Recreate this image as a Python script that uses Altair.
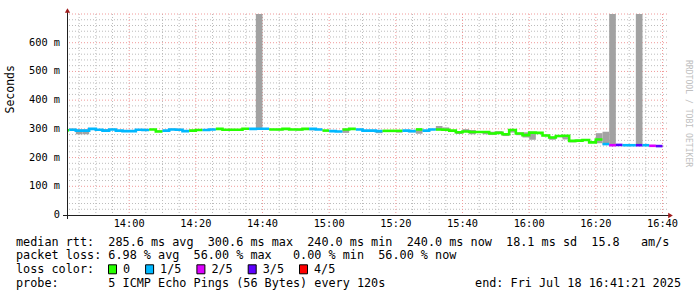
import altair as alt
import pandas as pd

# ---------------- data ----------------
# one value per 2-minute step, first step starts 13:40 (minutes after 13:40)
median_ms = [295, 297, 294, 294, 300, 297, 294, 298, 294, 292,
             292, 297, 296, 298, 291, 294, 298, 297, 292, 294,
             296, 296, 298, 300, 297, 297, 297, 300.6, 300, 300.6,
             300.6, 298, 298, 300, 298, 298, 300, 300, 298, 294,
             292, 291, 298, 300, 298, 294, 294, 292, 293, 293,
             293, 294, 292, 298, 294, 298, 298, 297, 294, 288,
             291, 289, 289, 289, 284, 286, 281, 296, 284, 278,
             287, 286, 277, 270, 275, 276, 258, 259, 261, 253,
             263, 247, 243, 244, 243, 243, 243, 243, 241, 240]
loss_idx = [0, 1, 1, 1, 1, 1, 1, 1, 1, 1,
            1, 1, 1, 0, 0, 1, 1, 1, 1, 0,
            0, 1, 1, 0, 0, 0, 0, 0, 1, 1,
            1, 0, 0, 0, 0, 0, 0, 1, 1, 0,
            1, 1, 0, 0, 1, 1, 1, 1, 0, 0,
            0, 1, 1, 0, 1, 1, 0, 0, 0, 0,
            0, 0, 0, 0, 0, 0, 0, 0, 0, 0,
            0, 0, 0, 0, 0, 0, 0, 0, 0, 0,
            0, 1, 2, 3, 1, 1, 3, 1, 2, 3]
smoke_lo = [293, 295, 281, 281, 297, 295, 292, 296, 292, 290,
            290, 294, 294, 296, 289, 292, 296, 294, 290, 292,
            293, 293, 296, 298, 294, 295, 295, 298, 298, 298,
            298, 296, 295, 298, 296, 294, 298, 295, 296, 292,
            290, 289, 286, 298, 296, 292, 292, 285, 291, 291,
            287, 292, 288, 283, 292, 296, 295, 294, 292, 282,
            289, 281, 286, 281, 279, 284, 275, 287, 278, 270,
            262, 283, 274, 262, 271, 263, 253, 257, 259, 251,
            250, 245, 241, 242, 241, 241, 241, 241, 239, 238]
smoke_hi = [300, 301, 298, 298, 301, 299, 299, 300, 296, 294,
            294, 299, 298, 300, 295, 296, 301, 300, 294, 297,
            298, 298, 300, 301, 299, 300, 299, 302, 302, 740,
            302, 300, 300, 302, 300, 300, 302, 302, 300, 296,
            294, 293, 300, 302, 300, 296, 296, 294, 295, 295,
            295, 296, 294, 300, 296, 300, 310, 305, 296, 291,
            299, 296, 291, 291, 290, 292, 284, 298, 287, 288,
            290, 288, 280, 273, 278, 278, 261, 262, 263, 256,
            285, 290, 740, 246, 245, 245, 740, 245, 243, 242]

loss_labels = ["0", "1/5", "2/5", "3/5", "4/5"]
loss_colors = ["#26ff00", "#00b8ff", "#dd00ff", "#5e00ff", "#ff0000"]

x_tick_values = [20, 40, 60, 80, 100, 120, 140, 160, 180]
x_tick_labels = ["14:00", "14:20", "14:40", "15:00", "15:20", "15:40",
                 "16:00", "16:20", "16:40"]
y_tick_values = [0, 100, 200, 300, 400, 500, 600]
y_tick_labels = ["0  ", "100 m", "200 m", "300 m", "400 m", "500 m", "600 m"]

x_minor = [m for m in range(5, 181, 5) if m % 20 != 0]
x_major = x_tick_values
y_minor = [v for v in range(20, 701, 20) if v % 100 != 0]
y_major = [100, 200, 300, 400, 500, 600, 700]

legend_rows = [
    "median rtt:  285.6 ms avg  300.6 ms max  240.0 ms min  240.0 ms now  18.1 ms sd  15.8   am/s",
    "packet loss: 6.98 % avg  56.00 % max   0.00 % min  56.00 % now",
    "loss color:",
    "probe:       5 ICMP Echo Pings (56 Bytes) every 120s",
]
end_text = "end: Fri Jul 18 16:41:21 2025"

# ---------------- derived tables ----------------
STEP = 2
X_DOMAIN = [1.35, 181.35]   # 13:41:21 .. 16:41:21
Y_DOMAIN = [0, 700]
W, H = 600, 201
NB = "\u00a0"


def keep_spaces(s):
    return s.replace(" ", NB)


n = len(median_ms)
t0 = [STEP * i for i in range(n)]
smoke_df = pd.DataFrame({"t0": t0, "t1": [t + STEP for t in t0],
                         "lo": smoke_lo, "hi": smoke_hi})

rows = []
grp = 0
for i in range(n):
    if i > 0 and loss_idx[i] != loss_idx[i - 1]:
        rows.append({"t": t0[i], "v": median_ms[i - 1], "grp": grp,
                     "loss": loss_labels[loss_idx[i - 1]]})
        grp += 1
    rows.append({"t": t0[i], "v": median_ms[i], "grp": grp,
                 "loss": loss_labels[loss_idx[i]]})
rows.append({"t": t0[-1] + STEP, "v": median_ms[-1], "grp": grp,
             "loss": loss_labels[loss_idx[-1]]})
line_df = pd.DataFrame(rows)

xs = alt.Scale(domain=X_DOMAIN, nice=False, zero=False)
ys = alt.Scale(domain=Y_DOMAIN, nice=False, zero=False)

MONO = "DejaVu Sans Mono"


def vgrid(vals, color):
    return alt.Chart(pd.DataFrame({"v": vals})).mark_rule(
        color=color, strokeDash=[1, 2], strokeWidth=1
    ).encode(x=alt.X("v:Q", scale=xs, axis=None))


def hgrid(vals, color):
    return alt.Chart(pd.DataFrame({"v": vals})).mark_rule(
        color=color, strokeDash=[1, 2], strokeWidth=1
    ).encode(y=alt.Y("v:Q", scale=ys, axis=None))


def text(txt, x, y, size=11.8, align="left", angle=0, color="#000000"):
    return alt.Chart(pd.DataFrame({"t": [keep_spaces(txt)]})).mark_text(
        align=align, baseline="middle", font=MONO, fontSize=size,
        angle=angle, color=color
    ).encode(x=alt.value(x), y=alt.value(y), text="t:N")


MINOR = "#bcbcbc"
MAJOR = "#f09a9a"

smoke = alt.Chart(smoke_df).mark_rect(color="#a2a2a2", clip=True).encode(
    x=alt.X("t0:Q", scale=xs, axis=None),
    x2="t1:Q",
    y=alt.Y("lo:Q", scale=ys, axis=None),
    y2="hi:Q",
)

median = alt.Chart(line_df).mark_line(
    interpolate="step-after", strokeWidth=2.6, clip=True
).encode(
    x=alt.X("t:Q", scale=xs, axis=None),
    y=alt.Y("v:Q", scale=ys, axis=None),
    color=alt.Color("loss:N", scale=alt.Scale(domain=loss_labels, range=loss_colors),
                    legend=None),
    detail="grp:N",
    order="t:Q",
)

x_tick_text = alt.Chart(pd.DataFrame({"v": x_tick_values, "lab": x_tick_labels})).mark_text(
    font=MONO, fontSize=10.3, baseline="middle", align="center", color="#000000"
).encode(x=alt.X("v:Q", scale=xs, axis=None), y=alt.value(210), text="lab:N")

y_tick_text = alt.Chart(pd.DataFrame({"v": y_tick_values,
                                      "lab": [keep_spaces(s) for s in y_tick_labels]})).mark_text(
    font=MONO, fontSize=10.3, baseline="middle", align="right", color="#000000"
).encode(x=alt.value(-7), y=alt.Y("v:Q", scale=ys, axis=None), text="lab:N")

AXIS = "#202020"
x_axis_line = alt.Chart(pd.DataFrame({"a": [0]})).mark_rule(color=AXIS, strokeWidth=1).encode(
    x=alt.value(-4), x2=alt.value(604), y=alt.value(201.5))
y_axis_line = alt.Chart(pd.DataFrame({"a": [0]})).mark_rule(color=AXIS, strokeWidth=1).encode(
    x=alt.value(0.5), y=alt.value(-2), y2=alt.value(205))

ARROW = "#a01c1c"
y_arrow = alt.Chart(pd.DataFrame({"a": [0]})).mark_point(
    shape="triangle-up", filled=True, size=28, color=ARROW, opacity=1).encode(
    x=alt.value(0.5), y=alt.value(-3.5))
x_arrow = alt.Chart(pd.DataFrame({"a": [0]})).mark_point(
    shape="triangle-right", filled=True, size=28, color=ARROW, opacity=1).encode(
    x=alt.value(603.5), y=alt.value(201.5))

layers = [
    vgrid(x_minor, MINOR), hgrid(y_minor, MINOR),
    vgrid(x_major, MAJOR), hgrid(y_major, MAJOR),
    smoke, median, x_axis_line, y_axis_line, y_arrow, x_arrow,
    x_tick_text, y_tick_text,
    text("Seconds", -56, 99.5, size=11.5, angle=270),
    text("RRDTOOL / TOBI OETIKER", 620.5, 46, size=8.1, angle=90, color="#c0c0c0"),
]

LX = -51
row_y = [227.7, 241.2, 255.3, 268.7]
for r, line in enumerate(legend_rows):
    layers.append(text(line, LX, row_y[r]))
layers.append(text(end_text, 614, row_y[3], align="right"))

# loss color legend boxes
CW = 7.1
bx = 41
for lab, col in zip(loss_labels, loss_colors):
    layers.append(
        alt.Chart(pd.DataFrame({"a": [0]})).mark_rect(
            color=col, stroke="#000000", strokeWidth=1).encode(
            x=alt.value(bx + 0.5), x2=alt.value(bx + 8.5),
            y=alt.value(row_y[2] - 4.5), y2=alt.value(row_y[2] + 4.5)))
    layers.append(text(lab, bx + 15, row_y[2]))
    bx += 15 + len(lab) * CW + 15

chart = alt.layer(*layers).properties(
    width=W, height=H,
    padding={"left": 67, "top": 14, "right": 30, "bottom": 82},
    autosize=alt.AutoSizeParams(type="none"),
    background="#ffffff",
).configure_view(stroke=None)

chart.save("out.html", embed_options={"renderer": "svg", "actions": False})
